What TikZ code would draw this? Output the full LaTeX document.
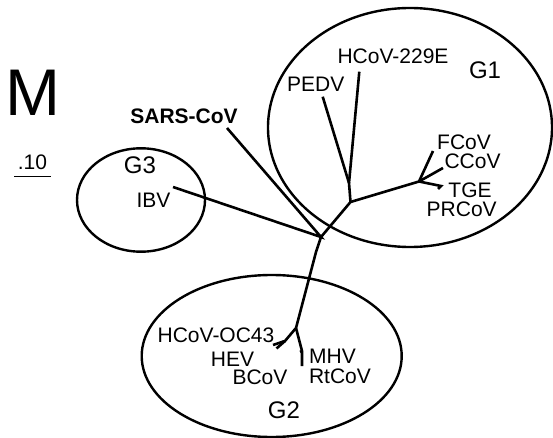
\documentclass[tikz,border=0pt]{standalone}
\usepackage{fontspec}
\setmainfont{Liberation Sans}
\tikzset{
  branch/.style={line width=2.6pt},
  group/.style={line width=2.4pt},
  taxon/.style={inner sep=0pt, font=\fontsize{21}{21}\selectfont},
  grouplabel/.style={inner sep=0pt, font=\fontsize{24}{24}\selectfont},
}
\begin{document}
\begin{tikzpicture}[x=1pt, y=-1pt]
      \useasboundingbox (0,0) rectangle (553,438);
      % groups
      \draw[group] (410,127.5) ellipse [x radius=142, y radius=119.5];
      \draw[group] (141,200) ellipse [x radius=64, y radius=51.7];
      \draw[group] (271.7,356) ellipse [x radius=130, y radius=81];
      \node[grouplabel] (G1) at (485,70) {G1};
      \node[grouplabel] (G2) at (284,410) {G2};
      \node[grouplabel] (G3) at (140,165) {G3};
      % scale
      \node[inner sep=0pt, font=\fontsize{66}{66}\selectfont] (M) at (32.5,93) {M};
      \node[taxon] (bar) at (32.5,162.5) {.10};
      \draw[line width=1.8pt] (14,176.5) -- (50.5,176.5);
      % junctions
      \coordinate (root) at (321,237);
      \coordinate (bend) at (316,252);
      \coordinate (g1) at (350.5,202);
      \coordinate (g1a) at (349,183);
      \coordinate (g1b) at (419,181.5);
      \coordinate (g2) at (296,328);
      \coordinate (g2a) at (285,341);
      \coordinate (g2b) at (302,351);
      % tips
      \coordinate (sars) at (227,128);
      \coordinate (ibv) at (173,187);
      \coordinate (pedv) at (322.7,96.7);
      \coordinate (hcov) at (359.3,71.7);
      \coordinate (fcov) at (433,151);
      \coordinate (ccov) at (443,168);
      \coordinate (tge) at (441,186);
      \coordinate (prcov) at (438,189);
      \coordinate (oc) at (273,345);
      \coordinate (hev) at (276.5,348.5);
      \coordinate (bcov) at (280,343);
      \coordinate (mhv) at (300,352);
      \coordinate (rtcov) at (302,366);
      % tree
      \draw[branch] (sars) -- (root) -- (ibv);
      \draw[branch] (root) -- (g1) -- (g1a) -- (pedv);
      \draw[branch] (g1a) -- (hcov);
      \draw[branch] (g1) -- (g1b) -- (fcov);
      \draw[branch] (g1b) -- (ccov);
      \draw[branch] (g1b) -- (tge) -- (prcov);
      \draw[branch] (root) -- (bend) -- (g2) -- (g2a) -- (oc);
      \draw[branch] (g2a) -- (hev);
      \draw[branch] (g2a) -- (bcov);
      \draw[branch] (g2) -- (g2b) -- (rtcov);
      \draw[branch] (g2b) -- (mhv);
      % labels
      \node[taxon, font=\fontsize{21}{21}\selectfont\bfseries] (sarsL) at (184,116.7) {SARS-CoV};
      \node[taxon] (ibvL) at (153.5,200.5) {IBV};
      \node[taxon] (pedvL) at (315.7,84) {PEDV};
      \node[taxon] (hcovL) at (393,56) {HCoV-229E};
      \node[taxon] (fcovL) at (464,142) {FCoV};
      \node[taxon] (ccovL) at (472.5,161.5) {CCoV};
      \node[taxon] (tgeL) at (470,190) {TGE};
      \node[taxon] (prcovL) at (461.7,209.5) {PRCoV};
      \node[taxon] (ocL) at (216,335) {HCoV-OC43};
      \node[taxon] (hevL) at (232.5,359.5) {HEV};
      \node[taxon] (bcovL) at (260,377.2) {BCoV};
      \node[taxon] (mhvL) at (332.5,356.7) {MHV};
      \node[taxon] (rtcovL) at (340,376.7) {RtCoV};
\end{tikzpicture}
\end{document}
